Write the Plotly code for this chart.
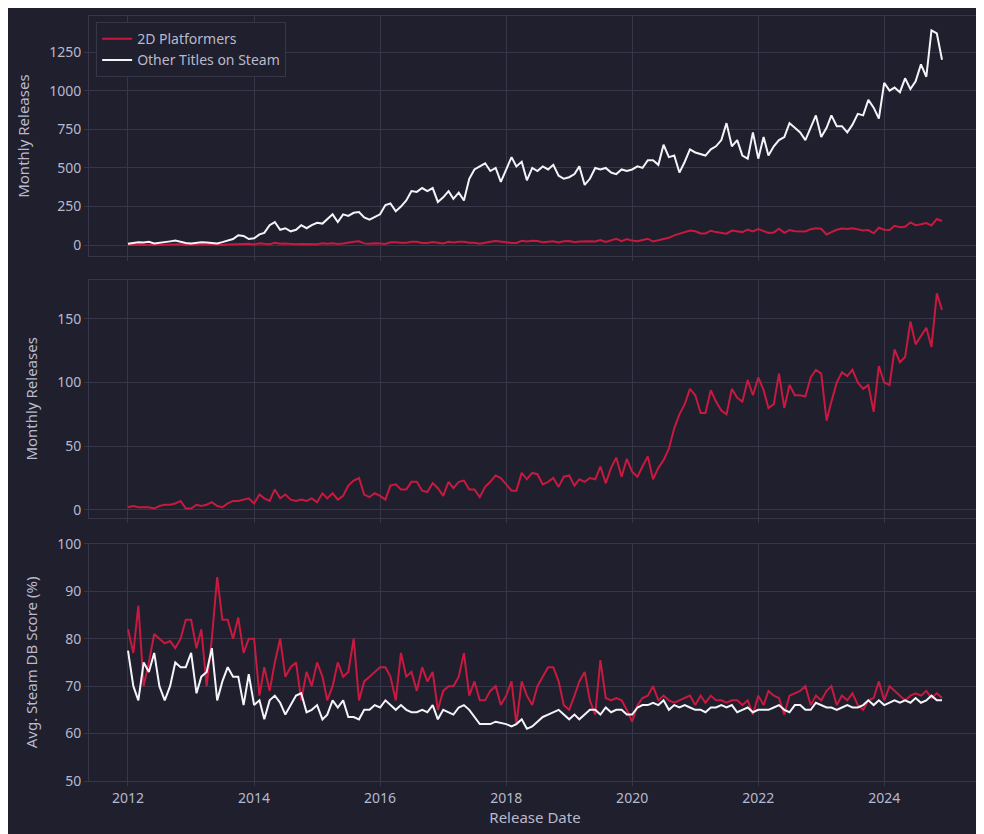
import pandas as pd
import plotly.graph_objects as go
from plotly.subplots import make_subplots

months = pd.date_range("2012-01-01", "2024-12-01", freq="MS")

platformers = [
    2, 3, 2, 2, 2, 1, 3, 4, 4, 5, 7, 1,
    1, 4, 3, 4, 6, 3, 2, 5, 7, 7, 8, 9,
    5, 12, 9, 7, 16, 9, 12, 8, 7, 8, 7, 9,
    6, 13, 9, 13, 8, 11, 19, 23, 25, 12, 10, 13,
    11, 8, 19, 20, 16, 16, 22, 22, 15, 14, 21, 17,
    11, 22, 17, 22, 23, 16, 16, 10, 18, 22, 27, 25,
    20, 15, 15, 29, 24, 29, 28, 20, 22, 25, 18, 26,
    27, 19, 24, 22, 25, 24, 34, 21, 33, 41, 26, 40,
    30, 26, 34, 42, 24, 33, 39, 48, 64, 75, 83, 95,
    90, 76, 76, 94, 85, 78, 75, 95, 88, 85, 102, 90,
    104, 94, 80, 83, 107, 80, 98, 90, 90, 89, 104, 110,
    107, 70, 85, 100, 108, 105, 110, 100, 95, 98, 77, 113,
    100, 98, 126, 116, 120, 148, 130, 136, 143, 128, 170, 157,
]

other_titles = [
    10, 15, 20, 18, 22, 12, 15, 20, 25, 30, 20, 15,
    12, 15, 20, 18, 15, 12, 20, 30, 40, 65, 60, 40,
    45, 70, 80, 130, 150, 100, 110, 90, 100, 130, 110, 130,
    145, 140, 170, 200, 150, 200, 190, 210, 215, 180, 165, 180,
    200, 260, 270, 220, 250, 290, 350, 345, 370, 350, 370, 280,
    310, 350, 300, 340, 290, 430, 490, 510, 530, 480, 500, 410,
    490, 570, 510, 540, 420, 500, 480, 510, 490, 520, 450, 430,
    440, 460, 510, 390, 430, 500, 490, 500, 470, 460, 490, 480,
    490, 510, 500, 550, 550, 520, 650, 570, 580, 470, 540, 620,
    600, 590, 580, 620, 640, 680, 790, 640, 680, 580, 560, 730,
    560, 700, 580, 640, 680, 700, 790, 760, 730, 680, 760, 840,
    700, 760, 840, 770, 770, 730, 780, 850, 840, 940, 890, 820,
    1050, 1000, 1020, 990, 1080, 1010, 1060, 1170, 1090, 1390, 1370, 1200,
]

score_platformers = [
    82, 77, 87, 70, 75, 81, 80, 79, 79.5, 78, 80, 84,
    84, 78, 82, 70, 80, 93, 84, 84, 80, 84.5, 77, 80,
    80, 68, 74, 69, 75, 80, 72, 74, 75, 67, 73, 70,
    75, 72, 67, 70, 75, 72, 73, 80, 67, 71, 72, 73,
    74, 74, 72, 67, 77, 72, 73, 69, 74, 71, 73, 65,
    69, 70, 70, 72, 77, 68, 71, 67, 67, 69, 70, 66,
    68, 71, 62, 71, 68, 66, 70, 72, 74, 74, 71, 66,
    65, 68, 71, 73, 67, 64, 75.5, 67.5, 67, 67.5, 67, 65,
    62.5, 66, 67.5, 68, 70, 67, 68, 67, 66.5, 67, 67.5, 68,
    66, 68, 66.5, 68, 67, 67, 66.5, 67, 67, 66, 67, 64,
    68, 66, 69, 68, 67.5, 64, 68, 68.5, 69, 70, 66, 68,
    67, 69, 70, 66, 68, 67, 68.5, 66, 65, 67, 67.5, 71,
    67, 70, 69, 68, 67, 68, 68.5, 68, 69, 67.5, 68.5, 67.5,
]

score_other = [
    77.5, 70, 67, 75, 73, 77, 70, 67, 70, 75, 74, 74,
    77, 68.5, 72, 73, 78, 67, 71, 74, 72, 72, 66, 72.5,
    66, 67, 63, 67, 68, 66.5, 64, 66, 68, 68.5, 64.5, 65,
    66, 63, 64, 67, 65.5, 67, 63.5, 63.5, 63, 65, 65, 66,
    65.5, 67, 66, 65, 66, 65, 64.5, 64.5, 65, 64.5, 66, 63,
    65, 64.5, 64, 65.5, 66, 65, 63.5, 62, 62, 62, 62.5, 62.2,
    62, 61.5, 62, 63, 61, 61.5, 62.5, 63.5, 64, 64.5, 65, 64,
    63, 64, 63, 64, 65, 65, 64, 65.5, 64.5, 65, 65, 64,
    64, 65.5, 66, 66, 66.5, 66, 67, 65, 66, 65.5, 66, 65.5,
    65, 65, 64.5, 65.5, 65.5, 66, 65.5, 66, 64.5, 65, 65.5, 64.5,
    65, 65, 65, 65.5, 66, 65, 64.5, 66, 66, 65, 65, 66.5,
    66, 65.5, 65.5, 65, 65.5, 66, 65.5, 65.5, 66, 67, 66, 67,
    66, 66.5, 67, 66.5, 67, 66.5, 67.5, 66.5, 67, 68, 67, 67,
]

RED = "#c8193f"
WHITE = "#f4f4f8"
BG = "#1f1f2e"
GRID = "#363648"
TXT = "#b9b9cc"

fig = make_subplots(rows=3, cols=1, shared_xaxes=True)

fig.add_trace(go.Scatter(x=months, y=platformers, mode="lines", name="2D Platformers",
                         line=dict(color=RED, width=2)), row=1, col=1)
fig.add_trace(go.Scatter(x=months, y=other_titles, mode="lines", name="Other Titles on Steam",
                         line=dict(color=WHITE, width=2)), row=1, col=1)
fig.add_trace(go.Scatter(x=months, y=platformers, mode="lines", showlegend=False,
                         line=dict(color=RED, width=2)), row=2, col=1)
fig.add_trace(go.Scatter(x=months, y=score_platformers, mode="lines", showlegend=False,
                         line=dict(color=RED, width=2)), row=3, col=1)
fig.add_trace(go.Scatter(x=months, y=score_other, mode="lines", showlegend=False,
                         line=dict(color=WHITE, width=2)), row=3, col=1)

axis_style = dict(showgrid=True, gridcolor=GRID, gridwidth=1, showline=True, linecolor=GRID,
                  mirror=True, zeroline=False, tickfont=dict(color=TXT, size=14),
                  ticks="outside", ticklen=4, tickcolor=GRID, automargin=False)

xrange = ["2011-05-20", "2025-07-15"]
fig.update_xaxes(**axis_style, range=xrange, dtick="M24", tickformat="%Y")
fig.update_xaxes(title=dict(text="Release Date", font=dict(color=TXT, size=15), standoff=6), row=3, col=1)

fig.update_yaxes(**axis_style)
fig.update_yaxes(range=[-71, 1483], tickvals=[0, 250, 500, 750, 1000, 1250],
                 title=dict(text="Monthly Releases", font=dict(color=TXT, size=15)), row=1, col=1)
fig.update_yaxes(range=[-6.3, 180.6], tickvals=[0, 50, 100, 150],
                 title=dict(text="Monthly Releases", font=dict(color=TXT, size=15)), row=2, col=1)
fig.update_yaxes(range=[50, 100], dtick=10,
                 title=dict(text="Avg. Steam DB Score (%)", font=dict(color=TXT, size=15)), row=3, col=1)

fig.update_layout(
    width=984, height=834,
    paper_bgcolor=BG, plot_bgcolor=BG,
    font=dict(family="Noto Sans", color=TXT),
    margin=dict(l=81, r=11, t=8, b=61),
    yaxis=dict(domain=[0.686, 1.0]),
    yaxis2=dict(domain=[0.344, 0.655]),
    yaxis3=dict(domain=[0.0, 0.31]),
    legend=dict(x=0.008, y=0.992, xanchor="left", yanchor="top", bgcolor=BG,
                bordercolor=GRID, borderwidth=1, font=dict(color=TXT, size=14)),
)

fig.write_html("out.html")
